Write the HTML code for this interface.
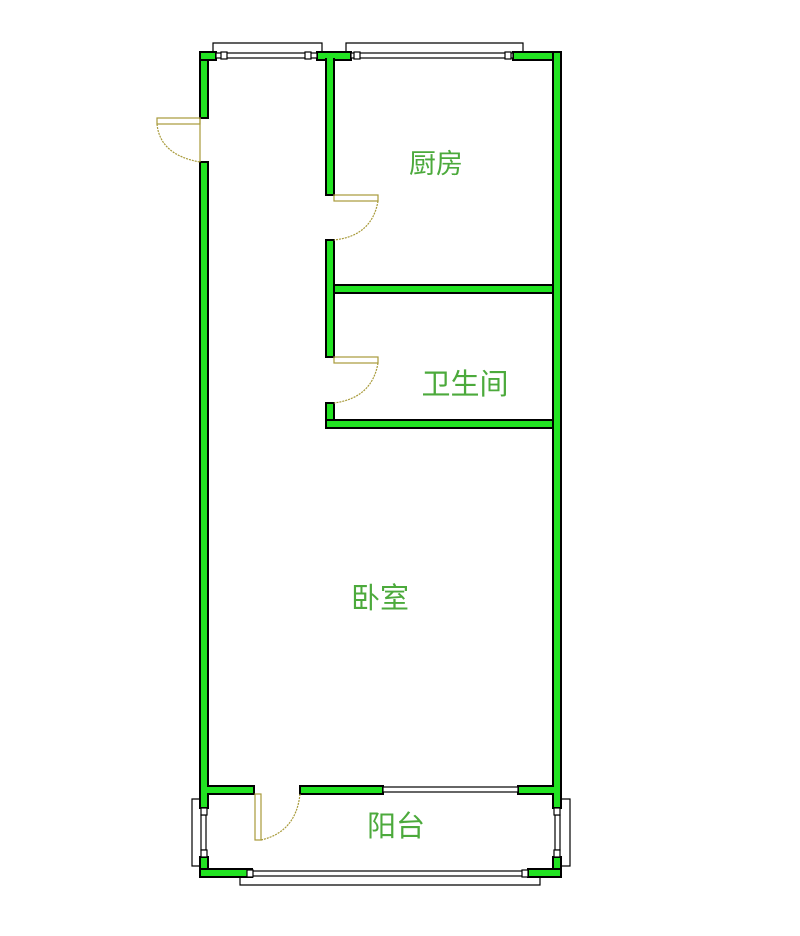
<!DOCTYPE html>
<html><head><meta charset="utf-8"><style>
html,body{margin:0;padding:0;background:#fff;width:800px;height:936px;overflow:hidden}
text{font-family:"Liberation Sans","Noto Sans CJK SC",sans-serif;fill:#4caa3c}
</style></head><body>
<svg width="800" height="936" viewBox="0 0 800 936" xmlns="http://www.w3.org/2000/svg">
<g fill="#22e322" stroke="#000" stroke-width="2">
<rect x="200" y="52" width="8" height="66"/>
<rect x="200" y="162" width="8" height="646"/>
<rect x="200" y="857" width="8" height="20"/>
<rect x="200" y="52" width="16" height="8"/>
<rect x="317" y="52" width="34" height="8"/>
<rect x="513" y="52" width="48" height="8"/>
<rect x="553" y="52" width="8" height="756"/>
<rect x="553" y="857" width="8" height="20"/>
<rect x="326" y="59" width="8" height="136"/>
<rect x="326" y="240" width="8" height="117"/>
<rect x="326" y="403" width="8" height="25"/>
<rect x="334" y="285" width="219" height="8"/>
<rect x="326" y="420" width="227" height="8"/>
<rect x="208" y="786" width="46" height="8"/>
<rect x="300" y="786" width="83" height="8"/>
<rect x="518" y="786" width="35" height="8"/>
<rect x="200" y="869" width="52" height="8"/>
<rect x="528" y="869" width="33" height="8"/>
</g>
<g fill="#22e322">
<rect x="201" y="53" width="6" height="6"/>
<rect x="327" y="53" width="6" height="7"/>
<rect x="554" y="53" width="6" height="6"/>
<rect x="554" y="286" width="6" height="6"/>
<rect x="554" y="421" width="6" height="6"/>
<rect x="201" y="787" width="8" height="6"/>
<rect x="552" y="787" width="8" height="6"/>
<rect x="201" y="870" width="6" height="6"/>
<rect x="554" y="870" width="6" height="6"/>
</g>
<g fill="#fff" stroke="#000" stroke-width="1.2">
<polyline points="213,52 213,43 322,43 322,52" fill="none"/>
<polyline points="346,52 346,43 523,43 523,52" fill="none"/>
<rect x="216" y="53" width="101" height="5"/>
<rect x="351" y="53" width="162" height="5"/>
<rect x="221" y="52" width="6" height="7"/>
<rect x="305" y="52" width="6" height="7"/>
<rect x="354" y="52" width="6" height="7"/>
<rect x="505" y="52" width="6" height="7"/>
<rect x="383" y="787" width="135" height="5"/>
<rect x="252" y="871" width="276" height="5"/>
<polyline points="240,877 240,885 540,885 540,877" fill="none"/>
<rect x="247" y="870" width="6" height="7"/>
<rect x="522" y="870" width="6" height="7"/>
<polyline points="200,799 192,799 192,866 200,866" fill="none"/>
<rect x="201" y="815" width="5" height="35"/>
<rect x="201" y="808" width="6" height="7"/>
<rect x="201" y="850" width="6" height="7"/>
<polyline points="561,799 570,799 570,866 561,866" fill="none"/>
<rect x="555" y="815" width="5" height="35"/>
<rect x="554" y="808" width="6" height="7"/>
<rect x="554" y="850" width="6" height="7"/>
</g>
<g fill="none" stroke="#a89a3a" stroke-width="1.2">
<rect x="157" y="118" width="43" height="6"/>
<line x1="200" y1="118" x2="200" y2="162"/>
<path d="M157 124 Q160 155 200 162" stroke-dasharray="2 1"/>
<rect x="334" y="195" width="44" height="6"/>
<path d="M378 201 Q372 236 334 240" stroke-dasharray="2 1"/>
<rect x="334" y="357" width="44" height="6"/>
<path d="M378 363 Q372 398 334 403" stroke-dasharray="2 1"/>
<rect x="255" y="794" width="6" height="46"/>
<path d="M261 840 Q296 832 300 794" stroke-dasharray="2 1"/>
</g>
<text x="436" y="173" font-size="27" text-anchor="middle">厨房</text>
<text x="465" y="394" font-size="29" text-anchor="middle">卫生间</text>
<text x="380" y="608" font-size="29" text-anchor="middle">卧室</text>
<text x="396" y="836" font-size="29" text-anchor="middle">阳台</text>
</svg>
</body></html>
